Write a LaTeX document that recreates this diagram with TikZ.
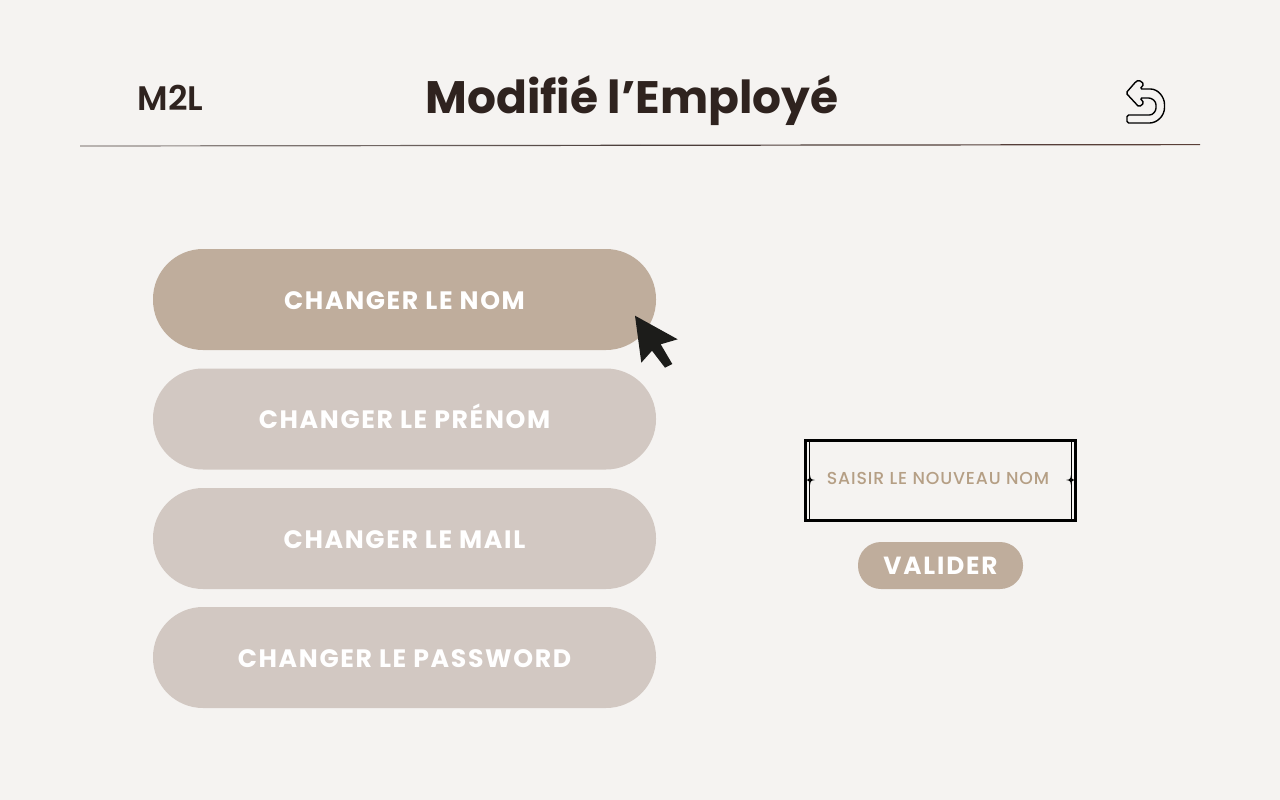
\documentclass[tikz,border=0pt]{standalone}
\usepackage{fontspec}
\setmainfont{Poppins}
\newfontfamily\btnfont[LetterSpace=6.5]{Poppins Bold}
\newfontfamily\valfont[LetterSpace=7.5]{Poppins Bold}
\newfontfamily\titlefont{Poppins Bold}
\newfontfamily\medfont{Poppins SemiBold}
\newfontfamily\phfont[LetterSpace=5.0]{Poppins Medium}
\definecolor{bgc}{HTML}{F5F3F1}
\definecolor{dark}{HTML}{BFAD9C}
\definecolor{lite}{HTML}{D2C8C2}
\definecolor{ink}{HTML}{2F231F}
\definecolor{ph}{HTML}{B59F85}
\definecolor{curs}{HTML}{1C1C1A}
\definecolor{rulemid}{HTML}{4A3D3A}
\definecolor{ruleend}{HTML}{5A3F38}
\definecolor{rulestart}{HTML}{9A9390}
\tikzset{
  x=1pt,y=-1pt,
  pill/.style={rounded corners=50pt,inner sep=0pt,outer sep=0pt,minimum width=503pt,minimum height=101pt,
    text=white,font=\btnfont\fontsize{25.2}{28}\selectfont,text height=17pt,text depth=0pt},
  pillon/.style={pill,fill=dark},
  pilloff/.style={pill,fill=lite},
  twinkle/.style={fill=black,draw=none},
}
\begin{document}
\begin{tikzpicture}
\useasboundingbox (0,0) rectangle (1280,800);
\fill[bgc] (0,0) rectangle (1280,800);
% header
\node[text=ink,font=\medfont\fontsize{34}{38}\selectfont,inner sep=0pt] (brand) at (170.5,98) {M2L};
\node[text=ink,font=\titlefont\fontsize{45.5}{52}\selectfont,inner sep=0pt] (title) at (632,101) {Modifié l’Employé};
\shade[left color=rulestart,right color=rulemid] (80,145.4)--(640,144.7)--(640,145.9)--(80,146.6)--cycle;
\shade[left color=rulemid,right color=ruleend] (640,144.7)--(1200,144)--(1200,145.2)--(640,145.9)--cycle;
% back icon
\draw[black,line width=1.4pt,rounded corners=1.6pt,fill=none]
  (1126,93)--(1136,81.5)--(1139,80)--(1144,84)--(1140,89)--(1149,89)
  .. controls (1158,89) and (1164.5,97) .. (1164.5,106)
  .. controls (1164.5,116) and (1157,123) .. (1148,123)
  --(1127,123)--(1127,115)--(1148,115)
  .. controls (1153,115) and (1156,111) .. (1156,106.5)
  .. controls (1156,101) and (1152,98) .. (1147,98)
  --(1140,98)--(1144,103)--(1139,107)--cycle;
% buttons
\node[pillon] (b1) at (404.5,299.5) {\raisebox{-1pt}{CHANGER LE NOM}};
\node[pilloff] (b2) at (404.5,419) {\raisebox{-1pt}{CHANGER LE PRÉNOM}};
\node[pilloff] (b3) at (404.5,538.5) {\raisebox{-1pt}{CHANGER LE MAIL}};
\node[pilloff] (b4) at (404.5,657.5) {\raisebox{-1pt}{CHANGER LE PASSWORD}};
% cursor
\fill[curs] (635,315.7)--(677.7,339.3)--(660.7,344.3)--(672.3,364)--(665,367.7)--(652,350.7)--(641.3,362.7)--cycle;
% input box
\node[draw=black,line width=3pt,minimum width=270pt,minimum height=80pt,inner sep=0pt,outer sep=0pt] (box) at (940.5,480.3) {};
\node[text=ph,font=\phfont\fontsize{17.3}{20}\selectfont,inner sep=0pt] (hint) at (938,478.5) {SAISIR LE NOUVEAU NOM};
\draw[black,line width=.8pt] (809.3,440.5)--(809.3,520.5);
\draw[black,line width=.8pt] (1071.3,440.5)--(1071.3,520.5);
\fill[twinkle] (810,475)..controls(810.5,479)and(811,479.5)..(815,480)..controls(811,480.5)and(810.5,481)..(810,485)..controls(809.5,481)and(809,480.5)..(805,480)..controls(809,479.5)and(809.5,479)..(810,475)--cycle;
\fill[twinkle] (1071,475)..controls(1071.5,479)and(1072,479.5)..(1076,480)..controls(1072,480.5)and(1071.5,481)..(1071,485)..controls(1070.5,481)and(1070,480.5)..(1066,480)..controls(1070,479.5)and(1070.5,479)..(1071,475)--cycle;
% validate
\node[fill=dark,rounded corners=23pt,minimum width=165pt,minimum height=47pt,inner sep=0pt,outer sep=0pt,text=white,font=\valfont\fontsize{24.8}{28}\selectfont] (val) at (940.5,565.5) {\raisebox{-2.5pt}{VALIDER}};
\end{tikzpicture}
\end{document}
